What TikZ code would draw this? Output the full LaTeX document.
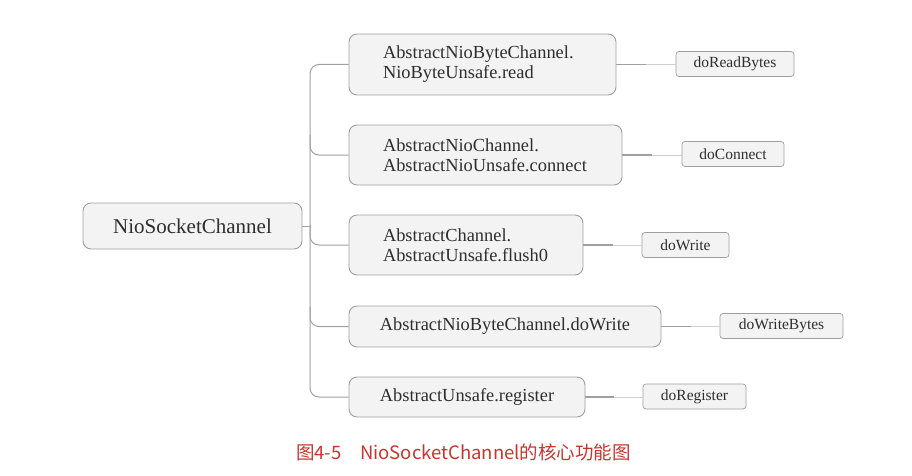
\documentclass[tikz,border=0pt]{standalone}
\usepackage{fontspec}
\setmainfont{Liberation Serif}
\newfontfamily\cjk{Noto Sans CJK SC}
\usetikzlibrary{calc}
\definecolor{boxfill}{HTML}{F3F3F3}
\definecolor{boxline}{HTML}{9E9E9E}
\definecolor{connline}{HTML}{A0A0A0}
\definecolor{connlight}{HTML}{D0D0D0}
\definecolor{txt}{HTML}{2E2E2E}
\definecolor{capred}{HTML}{C8352C}
\begin{document}
\begin{tikzpicture}[x=1pt,y=-1pt,
  bigbox/.style={draw=boxline, fill=boxfill, rounded corners=8pt, line width=0.9pt,
    text=txt, font=\fontsize{18.4}{20}\selectfont, align=center, inner sep=0pt},
  twoline/.style={bigbox, align=left, text width=#1,
    execute at begin node={\leftskip=34pt\relax}},
  rootbox/.style={bigbox, font=\fontsize{21}{24}\selectfont},
  smallbox/.style={draw=boxline, fill=boxfill, rounded corners=3pt, line width=0.7pt,
    text=txt, font=\fontsize{15.5}{18}\selectfont, inner sep=0pt, minimum height=25pt},
  conn/.style={draw=connline, line width=1pt},
  connr/.style={draw=connlight, line width=1pt},
  conndark/.style={draw=connline, line width=1.2pt}]
\useasboundingbox (0,0) rectangle (912,476);

\node[rootbox, minimum width=219pt, minimum height=46pt] (root) at (192.5,226) {NioSocketChannel};

\node[twoline=267pt, minimum height=61pt] (b1) at (482.5,64.5)
  {AbstractNioByteChannel.\\NioByteUnsafe.read};
\node[twoline=273pt, minimum height=60pt] (b2) at (485.5,155)
  {AbstractNioChannel.\\AbstractNioUnsafe.connect};
\node[twoline=234pt, minimum height=60pt] (b3) at (466,245)
  {AbstractChannel.\\AbstractUnsafe.flush0};
\node[bigbox, minimum width=312pt, minimum height=41pt] (b4) at (505,326.5)
  {AbstractNioByteChannel.doWrite};
\node[bigbox, minimum width=236pt, minimum height=40pt] (b5) at (467,397)
  {AbstractUnsafe.register};

\node[smallbox, minimum width=118pt] (s1) at (735,64) {doReadBytes};
\node[smallbox, minimum width=102pt] (s2) at (733,154) {doConnect};
\node[smallbox, minimum width=87pt] (s3) at (685.5,245) {doWrite};
\node[smallbox, minimum width=123pt] (s4) at (781.5,326) {doWriteBytes};
\node[smallbox, minimum width=103pt] (s5) at (694.5,396.5) {doRegister};

% tree
\coordinate (t) at (310,0);
\draw[conn] (root.east) -- (root.east -| t);
\draw[conn, rounded corners=9pt] (b1.west) -- (b1.west -| t) -- (b5.west -| t) -- (b5.west);
\draw[conn, rounded corners=9pt] ($(b2.west -| t)+(0,-20)$) |- (b2.west);
\draw[conn, rounded corners=9pt] ($(b3.west -| t)+(0,-20)$) |- (b3.west);
\draw[conn, rounded corners=9pt] ($(b4.west -| t)+(0,-20)$) |- (b4.west);

% right connectors
\foreach \b/\s in {b1/s1,b2/s2,b3/s3,b4/s4,b5/s5}{
  \draw[connr] (\b.east) -- (\b.east -| \s.west);
  \draw[conndark] (\b.east) -- ($(\b.east)!0.5!(\b.east -| \s.west)$);
}

\node[text=capred, font=\cjk\fontsize{18.5}{22}\selectfont] (cap) at (463.5,452)
  {图4-5\hspace{1em}NioSocketChannel的核心功能图};
\end{tikzpicture}
\end{document}
